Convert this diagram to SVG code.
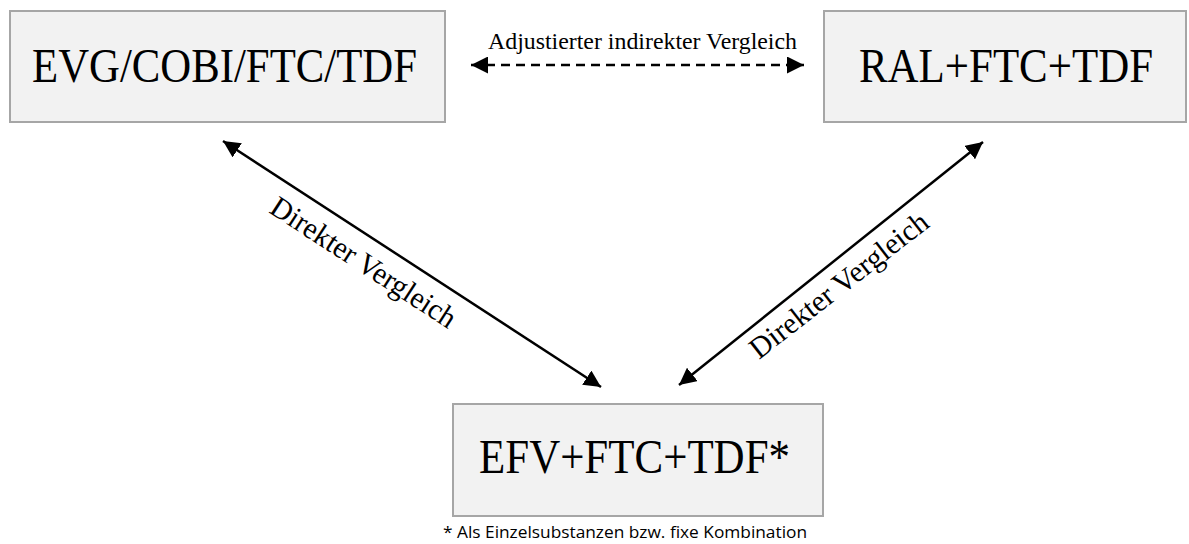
<svg xmlns="http://www.w3.org/2000/svg" width="1189" height="544" viewBox="0 0 1189 544">
<style>
.box{fill:#f2f2f2;stroke:#a6a6a6;stroke-width:2}
.big{font-family:"Liberation Serif","Times New Roman",serif;font-size:48px;fill:#000}
.lbl{font-family:"Liberation Serif","Times New Roman",serif;fill:#000}
.con{stroke:#000;stroke-width:2.5;fill:none}
.note{font-family:"Open Sans","Noto Sans","Liberation Sans",sans-serif;font-size:16px;fill:#000}
</style>
<defs>
<marker id="ah" viewBox="0 0 10 10" refX="10" refY="5" markerWidth="6.8" markerHeight="6.8" markerUnits="strokeWidth" orient="auto-start-reverse">
<path d="M0,0 L10,5 L0,10 Z" fill="#000"/>
</marker>
</defs>
<rect width="1189" height="544" fill="#fff"/>
<g id="node-evg">
<rect class="box" x="10" y="11" width="435" height="111"/>
<text class="big" x="32" y="82" textLength="385" lengthAdjust="spacingAndGlyphs">EVG/COBI/FTC/TDF</text>
</g>
<g id="node-ral">
<rect class="box" x="824" y="11" width="362" height="111"/>
<text class="big" x="859" y="82" textLength="294" lengthAdjust="spacingAndGlyphs">RAL+FTC+TDF</text>
</g>
<g id="node-efv">
<rect class="box" x="453" y="404" width="370" height="112"/>
<text class="big" x="479" y="473" textLength="311" lengthAdjust="spacingAndGlyphs">EFV+FTC+TDF*</text>
</g>
<g id="connectors">
<line class="con" x1="471" y1="65" x2="804" y2="65" stroke-width="2.8" stroke-dasharray="9,6" marker-start="url(#ah)" marker-end="url(#ah)"/>
<line class="con" x1="223" y1="141" x2="601" y2="387" marker-start="url(#ah)" marker-end="url(#ah)"/>
<line class="con" x1="679" y1="385" x2="983" y2="142" marker-start="url(#ah)" marker-end="url(#ah)"/>
<text class="lbl" x="488" y="49" font-size="23" textLength="309" lengthAdjust="spacingAndGlyphs">Adjustierter indirekter Vergleich</text>
<text class="lbl" x="268" y="212" font-size="30" textLength="215" lengthAdjust="spacingAndGlyphs" transform="rotate(33 268 212)">Direkter Vergleich</text>
<text class="lbl" x="759" y="360" font-size="30" textLength="218" lengthAdjust="spacingAndGlyphs" transform="rotate(-38 759 360)">Direkter Vergleich</text>
</g>
<g id="footnote">
<text class="note" x="443" y="538" textLength="364" lengthAdjust="spacingAndGlyphs">* Als Einzelsubstanzen bzw. fixe Kombination</text>
</g>
</svg>
